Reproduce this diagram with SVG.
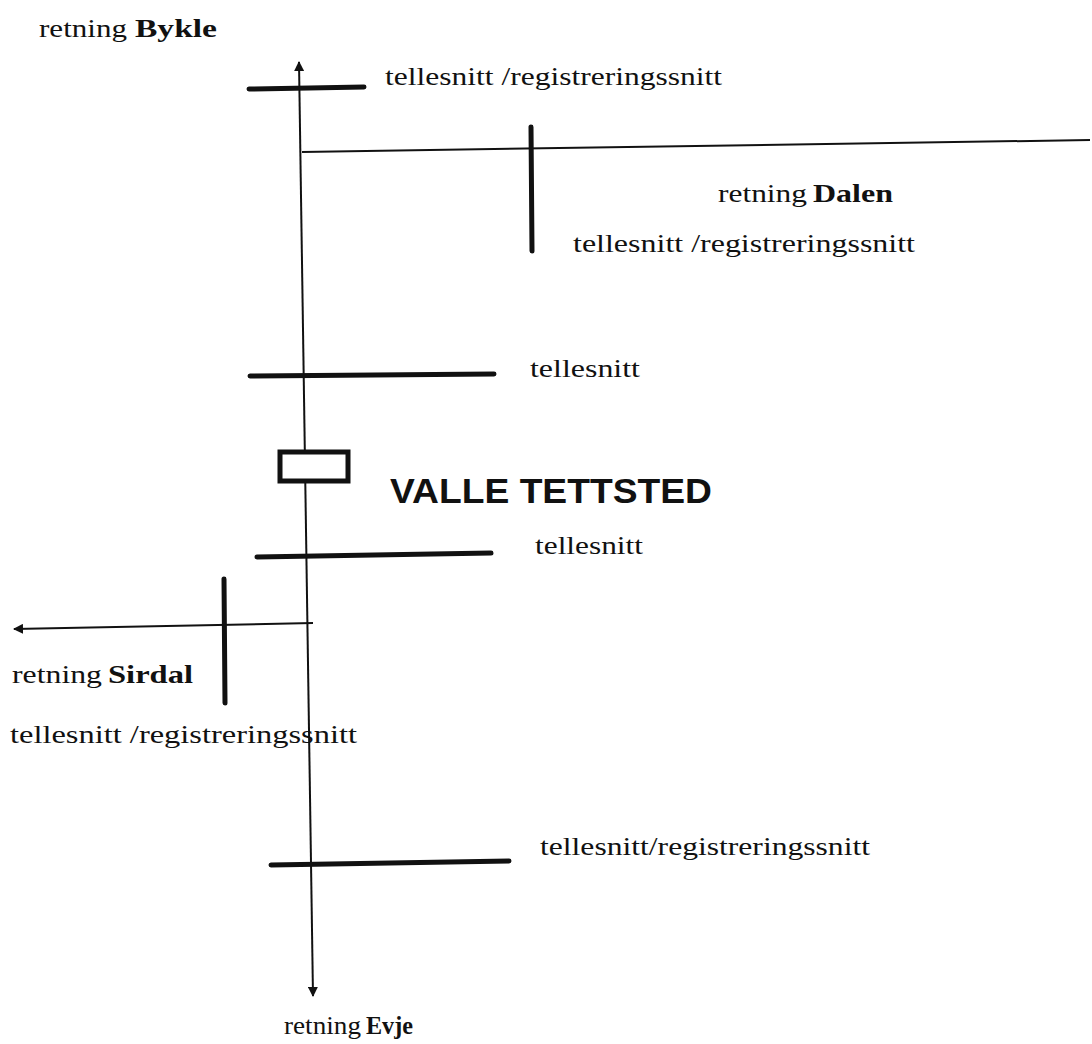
<svg xmlns="http://www.w3.org/2000/svg" width="1092" height="1044" viewBox="0 0 1092 1044">
<style>
.t{font-family:"Liberation Serif",serif;font-size:26px;fill:#111}
.b{font-weight:bold}
.road{stroke:#111;stroke-width:2;fill:none}
.cut{stroke:#111;stroke-width:5;stroke-linecap:round;fill:none}
.big{font-family:"Liberation Sans",sans-serif;font-size:35px;font-weight:bold;fill:#111}
</style>
<defs>
<marker id="ah" viewBox="0 0 10 10" refX="9" refY="5" markerWidth="10" markerHeight="10" markerUnits="userSpaceOnUse" orient="auto">
<path d="M0,0 L10,5 L0,10 Z" fill="#111"/>
</marker>
</defs>
<rect width="1092" height="1044" fill="#fff"/>
<g id="connectors">
<line class="road" x1="306" y1="530" x2="299" y2="62" marker-end="url(#ah)"/>
<line class="road" x1="306" y1="530" x2="313" y2="996" marker-end="url(#ah)"/>
<line class="road" x1="302" y1="152" x2="1090" y2="140"/>
<line class="road" x1="313" y1="623" x2="14" y2="629" marker-end="url(#ah)"/>
</g>
<g id="label-bykle"><text class="t" x="39" y="37" textLength="88" lengthAdjust="spacingAndGlyphs">retning</text><text class="t b" x="135" y="37" textLength="82" lengthAdjust="spacingAndGlyphs">Bykle</text></g>
<g id="cut-1"><line class="cut" x1="249" y1="89" x2="364" y2="87"/><text class="t" x="385" y="85" textLength="337" lengthAdjust="spacingAndGlyphs">tellesnitt /registreringssnitt</text></g>
<g id="label-dalen"><text class="t" x="718" y="202" textLength="89" lengthAdjust="spacingAndGlyphs">retning</text><text class="t b" x="813" y="202" textLength="80" lengthAdjust="spacingAndGlyphs">Dalen</text></g>
<g id="cut-2"><line class="cut" x1="531" y1="127" x2="532" y2="251"/><text class="t" x="573" y="252" textLength="342" lengthAdjust="spacingAndGlyphs">tellesnitt /registreringssnitt</text></g>
<g id="cut-3"><line class="cut" x1="250" y1="376" x2="494" y2="374"/><text class="t" x="530" y="377" textLength="110" lengthAdjust="spacingAndGlyphs">tellesnitt</text></g>
<g id="valle"><rect x="280" y="452" width="68" height="29" fill="#fff" stroke="#111" stroke-width="5"/><text class="big" x="390" y="503" textLength="322" lengthAdjust="spacingAndGlyphs">VALLE TETTSTED</text></g>
<g id="cut-4"><line class="cut" x1="257" y1="557" x2="491" y2="553"/><text class="t" x="535" y="554" textLength="108" lengthAdjust="spacingAndGlyphs">tellesnitt</text></g>
<g id="label-sirdal"><text class="t" x="12" y="683" textLength="90" lengthAdjust="spacingAndGlyphs">retning</text><text class="t b" x="108" y="683" textLength="85" lengthAdjust="spacingAndGlyphs">Sirdal</text></g>
<g id="cut-5"><line class="cut" x1="224" y1="579" x2="225" y2="703"/><text class="t" x="10" y="743" textLength="347" lengthAdjust="spacingAndGlyphs">tellesnitt /registreringssnitt</text></g>
<g id="cut-6"><line class="cut" x1="271" y1="865" x2="509" y2="861"/><text class="t" x="540" y="855" textLength="330" lengthAdjust="spacingAndGlyphs">tellesnitt/registreringssnitt</text></g>
<g id="label-evje"><text class="t" x="284" y="1034" textLength="77" lengthAdjust="spacingAndGlyphs">retning</text><text class="t b" x="366" y="1034" textLength="47" lengthAdjust="spacingAndGlyphs">Evje</text></g>
</svg>
